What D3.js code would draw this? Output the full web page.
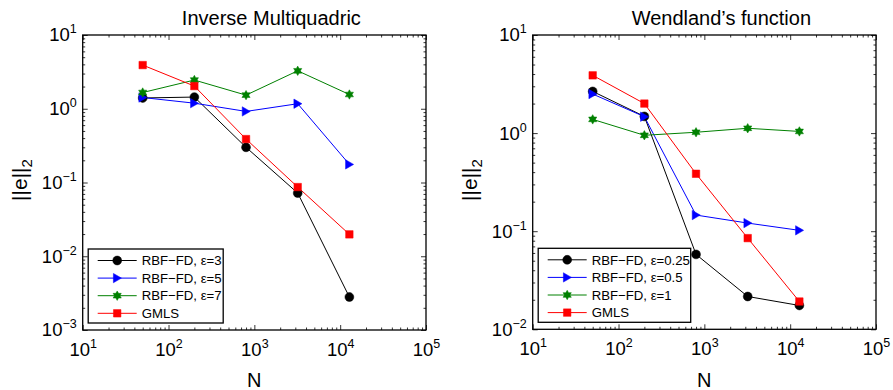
<!DOCTYPE html>
<html><head><meta charset="utf-8">
<script src="https://cdn.jsdelivr.net/npm/d3@7"></script>
<style>body{margin:0;background:#fff} svg{display:block;font-family:"Liberation Sans",Arial,Helvetica,sans-serif}</style>
</head><body><svg id="c" width="893" height="390"></svg>
<script>
// ---- data ----
const N = [50, 200, 800, 3200, 12800];
const xTickValues = [1e1, 1e2, 1e3, 1e4, 1e5];

const imqTitle = "Inverse Multiquadric";
const imqYTicks = [1e-3, 1e-2, 1e-1, 1e0, 1e1];
const imqLabels = ["RBF\u2212FD, \u03b5=3", "RBF\u2212FD, \u03b5=5", "RBF\u2212FD, \u03b5=7", "GMLS"];
const imqEps3 = [1.40, 1.44, 0.30, 0.072, 0.0028];
const imqEps5 = [1.42, 1.19, 0.92, 1.17, 0.176];
const imqEps7 = [1.66, 2.45, 1.53, 3.27, 1.56];
const imqGMLS = [3.91, 2.03, 0.388, 0.0867, 0.0198];

const wendTitle = "Wendland\u2019s function";
const wendYTicks = [1e-2, 1e-1, 1e0, 1e1];
const wendLabels = ["RBF\u2212FD, \u03b5=0.25", "RBF\u2212FD, \u03b5=0.5", "RBF\u2212FD, \u03b5=1", "GMLS"];
const wendEps025 = [2.66, 1.48, 0.058, 0.0216, 0.0175];
const wendEps05 = [2.50, 1.47, 0.146, 0.121, 0.102];
const wendEps1 = [1.38, 0.95, 1.02, 1.12, 1.04];
const wendGMLS = [3.88, 2.00, 0.385, 0.085, 0.0192];

const yLabel = "||e||";
const yLabelSub = "2";
const xLabel = "N";

// ---- styles ----
const seriesColors = ["#000000", "#0000ff", "#008000", "#ff0000"];

const symHexagram = {
  draw(ctx, size) {
    const R = Math.sqrt(size) * 0.62, r = R / Math.sqrt(3);
    for (let i = 0; i < 12; i++) {
      const a = -Math.PI / 2 + i * Math.PI / 6;
      const rr = i % 2 === 0 ? R : r;
      const px = rr * Math.cos(a), py = rr * Math.sin(a);
      if (i === 0) ctx.moveTo(px, py); else ctx.lineTo(px, py);
    }
    ctx.closePath();
  }
};
const symTriRight = {
  draw(ctx, size) {
    const h = Math.sqrt(size) * 0.62;
    ctx.moveTo(h * 0.95, 0);
    ctx.lineTo(-h * 0.85, -h * 1.05);
    ctx.lineTo(-h * 0.85, h * 1.05);
    ctx.closePath();
  }
};
const seriesSymbols = [
  d3.symbol(d3.symbolCircle, 62),
  d3.symbol(symTriRight, 52),
  d3.symbol(symHexagram, 58),
  d3.symbol(d3.symbolSquare, 56)
];

const svg = d3.select("#c");

function supLabel(sel, supFs, supDy) {
  sel.each(function (d) {
    const t = d3.select(this);
    const e = Math.round(Math.log10(d));
    t.text(null);
    t.append("tspan").text("10");
    t.append("tspan").attr("dy", supDy).attr("font-size", supFs)
      .text(e < 0 ? "\u2212" + (-e) : String(e));
  });
}

function minorTicks(dom) {
  const out = [];
  const lo = Math.round(Math.log10(dom[0])), hi = Math.round(Math.log10(dom[1]));
  for (let p = lo; p < hi; p++) for (let k = 2; k <= 9; k++) out.push(k * Math.pow(10, p));
  return out;
}

function panel(cfg) {
  const g = svg.append("g");
  const x = d3.scaleLog().domain([1e1, 1e5]).range([cfg.x0, cfg.x1]);
  const y = d3.scaleLog().domain(cfg.yDom).range([cfg.y1, cfg.y0]);
  const tickFs = 18.5, supFs = 12.5;

  // minor ticks
  const mx = minorTicks(x.domain()), my = minorTicks(y.domain());
  const minor = (axis, tv) => axis.tickValues(tv).tickSizeInner(-2.5).tickSizeOuter(0).tickFormat("");
  g.append("g").attr("transform", `translate(0,${cfg.y1})`).call(minor(d3.axisBottom(x), mx));
  g.append("g").attr("transform", `translate(0,${cfg.y0})`).call(minor(d3.axisTop(x), mx));
  g.append("g").attr("transform", `translate(${cfg.x0},0)`).call(minor(d3.axisLeft(y), my));
  g.append("g").attr("transform", `translate(${cfg.x1},0)`).call(minor(d3.axisRight(y), my));

  // major ticks with labels
  const bx = g.append("g").attr("transform", `translate(0,${cfg.y1})`)
    .call(d3.axisBottom(x).tickValues(xTickValues).tickSizeInner(-5).tickSizeOuter(0).tickPadding(6));
  bx.selectAll("text").attr("font-size", tickFs).attr("fill", "#000")
    .attr("dy", "1.08em").call(supLabel, supFs, -8);
  g.append("g").attr("transform", `translate(0,${cfg.y0})`)
    .call(d3.axisTop(x).tickValues(xTickValues).tickSizeInner(-5).tickSizeOuter(0).tickFormat(""));
  const ly = g.append("g").attr("transform", `translate(${cfg.x0},0)`)
    .call(d3.axisLeft(y).tickValues(cfg.yTicks).tickSizeInner(-5).tickSizeOuter(0).tickPadding(6));
  ly.selectAll("text").attr("font-size", tickFs).attr("fill", "#000").call(supLabel, supFs, -8);
  g.append("g").attr("transform", `translate(${cfg.x1},0)`)
    .call(d3.axisRight(y).tickValues(cfg.yTicks).tickSizeInner(-5).tickSizeOuter(0).tickFormat(""));
  g.selectAll(".domain").remove();
  g.selectAll(".tick line").attr("stroke", "#000").attr("stroke-width", 0.8);
  g.selectAll("g").attr("font-family", null);

  // box
  g.append("rect").attr("x", cfg.x0).attr("y", cfg.y0)
    .attr("width", cfg.x1 - cfg.x0).attr("height", cfg.y1 - cfg.y0)
    .attr("fill", "none").attr("stroke", "#000").attr("stroke-width", 1.3);

  // series
  const line = d3.line().x((d, i) => x(N[i])).y(d => y(d));
  cfg.series.forEach((s, si) => {
    g.append("path").datum(s).attr("d", line).attr("fill", "none")
      .attr("stroke", seriesColors[si]).attr("stroke-width", 1);
  });
  cfg.series.forEach((s, si) => {
    g.selectAll(null).data(s).enter().append("path")
      .attr("d", seriesSymbols[si])
      .attr("transform", (d, i) => `translate(${x(N[i])},${y(d)})`)
      .attr("fill", seriesColors[si]).attr("stroke", seriesColors[si]).attr("stroke-width", 0.5);
  });

  // title
  g.append("text").attr("x", (cfg.x0 + cfg.x1) / 2 + 17).attr("y", 25)
    .attr("text-anchor", "middle").attr("font-size", 20).text(cfg.title);

  // axis labels
  g.append("text").attr("x", (cfg.x0 + cfg.x1) / 2).attr("y", 387)
    .attr("text-anchor", "middle").attr("font-size", 20).text(xLabel);
  const yl = g.append("text").attr("transform", `translate(${cfg.ylx},180) rotate(-90)`)
    .attr("text-anchor", "middle").attr("font-size", 21);
  yl.append("tspan").text(yLabel);
  yl.append("tspan").attr("dy", 5).attr("font-size", 15).text(yLabelSub);

  // legend
  const lg = g.append("g").attr("transform", `translate(${cfg.x0 + 5.5},${cfg.y1 - 81})`);
  lg.append("rect").attr("width", cfg.legW).attr("height", 74)
    .attr("fill", "#fff").attr("stroke", "#000").attr("stroke-width", 1.3);
  cfg.labels.forEach((lab, i) => {
    const ry = 11.5 + i * 17.6;
    lg.append("line").attr("x1", 9.5).attr("x2", 48.5).attr("y1", ry).attr("y2", ry)
      .attr("stroke", seriesColors[i]).attr("stroke-width", 1);
    lg.append("path").attr("d", seriesSymbols[i]).attr("transform", `translate(29,${ry})`)
      .attr("fill", seriesColors[i]).attr("stroke", seriesColors[i]).attr("stroke-width", 0.5);
    lg.append("text").attr("x", 53.5).attr("y", ry).attr("dy", "0.36em")
      .attr("font-size", 13.2).text(lab);
  });
}

panel({
  x0: 82.7, x1: 426, y0: 35, y1: 330, yDom: [1e-3, 1e1], yTicks: imqYTicks,
  title: imqTitle, labels: imqLabels, legW: 135, ylx: 27,
  series: [imqEps3, imqEps5, imqEps7, imqGMLS]
});
panel({
  x0: 532.7, x1: 876, y0: 35, y1: 329.3, yDom: [1e-2, 1e1], yTicks: wendYTicks,
  title: wendTitle, labels: wendLabels, legW: 152.5, ylx: 477,
  series: [wendEps025, wendEps05, wendEps1, wendGMLS]
});
</script></body></html>
